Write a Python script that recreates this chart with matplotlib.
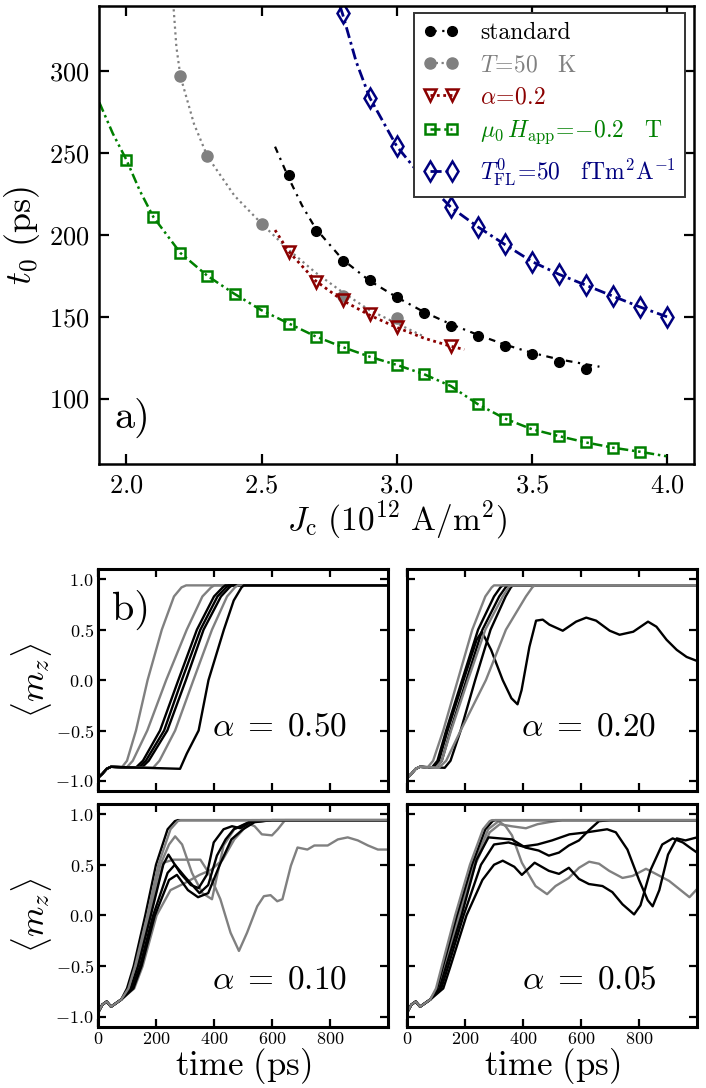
import numpy as np
import matplotlib
matplotlib.use("Agg")
import matplotlib.pyplot as plt
from matplotlib.lines import Line2D

plt.rcParams['font.family'] = ['cmr10', 'DejaVu Serif']
plt.rcParams['mathtext.fontset'] = 'cm'
plt.rcParams['axes.formatter.use_mathtext'] = True
plt.rcParams['axes.unicode_minus'] = True

# ---------------- panel a) data ----------------
jc_std = [2.6, 2.7, 2.8, 2.9, 3.0, 3.1, 3.2, 3.3, 3.4, 3.5, 3.6, 3.7]
t_std = [236.4, 202.2, 184.3, 172.3, 161.9, 152.2, 144.6, 138.1, 132.3, 127.2, 122.4, 118.0]
fit_std_x = [2.55, 2.6, 2.65, 2.7, 2.8, 2.9, 3.0, 3.1, 3.2, 3.3, 3.4, 3.5, 3.6, 3.7, 3.75]
fit_std_y = [254, 235, 218, 204, 185, 172, 162, 153, 145.5, 139, 133, 128, 124, 121, 119.5]

jc_T50 = [2.2, 2.3, 2.5, 2.8, 3.0]
t_T50 = [297, 248, 207, 163, 149]
fit_T50_x = [2.175, 2.185, 2.2, 2.25, 2.3, 2.4, 2.5, 2.6, 2.7, 2.8, 2.9, 3.0, 3.1]
fit_T50_y = [338, 315, 297, 268, 248, 224, 207, 191, 177, 165, 154, 146, 138]

jc_a02 = [2.6, 2.7, 2.8, 2.9, 3.0, 3.2]
t_a02 = [189.5, 171, 160, 151.6, 143.5, 132]
fit_a02_x = [2.55, 2.6, 2.7, 2.8, 2.9, 3.0, 3.1, 3.2, 3.25]
fit_a02_y = [203, 190, 172, 160, 151, 143.5, 137, 132, 130]

jc_H = [2.0, 2.1, 2.2, 2.3, 2.4, 2.5, 2.6, 2.7, 2.8, 2.9, 3.0, 3.1, 3.2, 3.3, 3.4, 3.5, 3.6, 3.7, 3.8, 3.9]
t_H = [246, 211, 188.7, 175, 163.7, 153.8, 145.6, 137.8, 131.5, 125.6, 120.6, 115, 107.7, 96.6, 87.8, 81.3, 77.1, 73.2, 70, 67.5]
fit_H_x = [1.9, 1.95, 2.0, 2.05, 2.1, 2.2, 2.3, 2.4, 2.5, 2.6, 2.7, 2.8, 2.9, 3.0, 3.1, 3.2, 3.3, 3.4, 3.5, 3.6, 3.7, 3.8, 3.9, 4.0]
fit_H_y = [281, 262, 246, 227, 211, 189, 175, 164, 154, 146, 138, 131.5, 125.6, 120.6, 115, 107.7, 96.6, 87.8, 81.3, 77.1, 73.2, 70, 67.5, 64.7]

jc_FL = [2.8, 2.9, 3.0, 3.1, 3.2, 3.3, 3.4, 3.5, 3.6, 3.7, 3.8, 3.9, 4.0]
t_FL = [336, 284, 254.3, 236, 217, 205, 194.2, 183.8, 176, 169.3, 162.6, 156, 150]
fit_FL_x = [2.79, 2.8, 2.85, 2.9, 3.0, 3.1, 3.2, 3.3, 3.4, 3.5, 3.6, 3.7, 3.8, 3.9, 4.0]
fit_FL_y = [340, 335, 306, 284, 254.3, 234, 217, 205, 194.2, 183.8, 176, 169.3, 162.6, 156, 150]

labels_a = ['standard', r'$T\!=\!50\quad\mathrm{K}$', r'$\alpha\!=\!0.2$',
            r'$\mu_0\,H_{\mathrm{app}}\!=\!{-}0.2\quad\mathrm{T}$',
            r'$T^{0}_{\mathrm{FL}}\!=\!50\quad\mathrm{fTm^2A^{-1}}$']

# ---------------- panel b) data ----------------
t0_a = [0, 15, 30, 45]
m0_a = [-0.97, -0.93, -0.88, -0.86]
t0_b = [0, 15, 30, 45, 60, 80]
m0_b = [-0.96, -0.88, -0.85, -0.90, -0.87, -0.83]
rise_m = [-0.87, -0.80, -0.5, 0.0, 0.5, 0.83, 0.92, 0.94, 0.94]

# alpha = 0.50
a50_g1_t = [81, 100, 131, 171, 220, 262, 288, 304, 1000]
a50_g2_t = [98, 120, 170, 235, 306, 360, 390, 401, 1000]
a50_b1_t = [130, 155, 214, 277, 341, 400, 430, 439, 1000]
a50_b2_t = [140, 165, 228, 289, 353, 412, 442, 451, 1000]
a50_b3_t = [150, 175, 239, 303, 364, 424, 453, 462, 1000]
a50_g3_t = [190, 212, 266, 329, 393, 445, 472, 482, 1000]
a50_b4_t = [283, 306, 347, 381, 434, 468, 495, 503, 1000]

# alpha = 0.20
a20_g1_t = [70, 90, 125, 175, 225, 270, 292, 300, 1000]
a20_b1_t = [85, 105, 135, 190, 245, 300, 322, 330, 1000]
a20_b3_t = [100, 120, 150, 205, 260, 318, 340, 348, 1000]
a20_g2_t = [100, 120, 152, 210, 270, 330, 350, 358, 1000]
a20_b4_t = [130, 150, 185, 235, 288, 340, 358, 365, 1000]
a20_g3_t = [110, 135, 185, 272, 341, 410, 432, 440, 1000]
a20_b2_t = [90, 110, 140, 195, 240, 258, 290, 330, 360, 381, 395, 422, 445, 468, 491, 537, 583, 618,
            652, 699, 733, 780, 831, 860, 895, 930, 964, 1000]
a20_b2_m = [-0.87, -0.80, -0.5, 0.0, 0.40, 0.48, 0.30, 0.0, -0.18, -0.24, -0.10, 0.33, 0.59, 0.60,
            0.55, 0.49, 0.58, 0.62, 0.59, 0.49, 0.45, 0.48, 0.58, 0.53, 0.40, 0.30, 0.23, 0.19]

# alpha = 0.10
a10_b1_t = [100, 123, 163, 200, 240, 265, 275, 1000]
a10_b1_m = [-0.72, -0.5, 0.0, 0.5, 0.85, 0.93, 0.94, 0.94]
a10_g1_t = [105, 128, 170, 208, 250, 275, 285, 1000]
a10_g1_m = [-0.72, -0.5, 0.0, 0.5, 0.85, 0.93, 0.94, 0.94]
a10_g2_t = [105, 130, 175, 215, 245, 266, 290, 324, 360, 393, 415, 433, 470, 515, 540, 565, 600, 620, 645, 1000]
a10_g2_m = [-0.72, -0.5, 0.0, 0.5, 0.70, 0.78, 0.70, 0.42, 0.22, 0.16, 0.45, 0.69, 0.85, 0.91, 0.88,
            0.80, 0.79, 0.85, 0.94, 0.94]
a10_g3_t = [110, 135, 180, 225, 260, 353, 382, 422, 457, 486, 514, 549, 572, 595, 618, 636, 665, 688,
            722, 746, 792, 827, 861, 896, 931, 965, 1000]
a10_g3_m = [-0.72, -0.5, 0.0, 0.52, 0.55, 0.55, 0.42, 0.16, -0.17, -0.35, -0.17, 0.09, 0.19, 0.20,
            0.14, 0.16, 0.49, 0.67, 0.65, 0.69, 0.69, 0.75, 0.77, 0.74, 0.69, 0.65, 0.65]
a10_g4_t = [125, 154, 202, 250, 300, 350, 390, 430, 470, 530, 1000]
a10_g4_m = [-0.72, -0.5, 0.0, 0.25, 0.32, 0.40, 0.45, 0.55, 0.75, 0.94, 0.94]
a10_b2_t = [112, 138, 182, 225, 243, 283, 320, 347, 375, 399, 433, 462, 491, 526, 600, 1000]
a10_b2_m = [-0.72, -0.5, 0.0, 0.5, 0.60, 0.42, 0.30, 0.27, 0.40, 0.72, 0.85, 0.88, 0.86, 0.92, 0.94, 0.94]
a10_b3_t = [118, 145, 190, 240, 265, 300, 350, 380, 410, 440, 468, 520, 560, 1000]
a10_b3_m = [-0.72, -0.5, 0.0, 0.42, 0.50, 0.38, 0.22, 0.30, 0.59, 0.75, 0.85, 0.92, 0.94, 0.94]
a10_b4_t = [122, 150, 196, 245, 272, 310, 345, 380, 420, 460, 500, 540, 600, 1000]
a10_b4_m = [-0.72, -0.5, 0.0, 0.35, 0.40, 0.25, 0.18, 0.22, 0.50, 0.75, 0.85, 0.92, 0.94, 0.94]

# alpha = 0.05
a05_g1_t = [100, 120, 166, 217, 262, 285, 293, 1000]
a05_g1_m = [-0.72, -0.5, 0.0, 0.5, 0.85, 0.93, 0.94, 0.94]
a05_b1_t = [104, 124, 172, 224, 270, 295, 304, 1000]
a05_b1_m = [-0.72, -0.5, 0.0, 0.5, 0.85, 0.93, 0.94, 0.94]
a05_g2_t = [108, 128, 178, 230, 280, 316, 340, 362, 396, 443, 483, 512, 558, 593, 628, 662, 697, 743,
            778, 824, 858, 904, 939, 974, 1000]
a05_g2_m = [-0.72, -0.5, 0.0, 0.5, 0.85, 0.93, 0.88, 0.79, 0.52, 0.29, 0.21, 0.29, 0.37, 0.47, 0.53,
            0.51, 0.44, 0.37, 0.39, 0.46, 0.41, 0.34, 0.26, 0.18, 0.26]
a05_g3_t = [110, 130, 182, 235, 285, 320, 360, 410, 450, 489, 535, 1000]
a05_g3_m = [-0.72, -0.5, 0.0, 0.5, 0.82, 0.90, 0.88, 0.86, 0.90, 0.92, 0.94, 0.94]
a05_ba_t = [112, 135, 188, 240, 281, 320, 362, 408, 454, 489, 524, 558, 593, 627, 662, 700, 1000]
a05_ba_m = [-0.72, -0.5, 0.0, 0.55, 0.77, 0.76, 0.75, 0.67, 0.64, 0.59, 0.62, 0.69, 0.74, 0.84, 0.93, 0.94, 0.94]
a05_bb_t = [118, 142, 195, 255, 300, 350, 400, 450, 500, 560, 620, 690, 720, 760, 800, 830, 847, 870,
            900, 930, 960, 1000]
a05_bb_m = [-0.72, -0.5, 0.0, 0.5, 0.70, 0.72, 0.68, 0.70, 0.74, 0.80, 0.82, 0.85, 0.82, 0.65, 0.35,
            0.15, 0.09, 0.25, 0.60, 0.76, 0.74, 0.77]
a05_bl_t = [125, 150, 205, 260, 300, 330, 370, 396, 440, 489, 524, 558, 593, 627, 674, 708, 743, 783,
            805, 840, 880, 916, 951, 980, 1000]
a05_bl_m = [-0.72, -0.5, 0.0, 0.35, 0.50, 0.54, 0.48, 0.40, 0.52, 0.44, 0.41, 0.47, 0.36, 0.31, 0.29,
            0.23, 0.11, 0.01, 0.10, 0.45, 0.70, 0.76, 0.72, 0.66, 0.62]

alpha_labels = [r'$\alpha\;=\;0.50$', r'$\alpha\;=\;0.20$', r'$\alpha\;=\;0.10$', r'$\alpha\;=\;0.05$']

GRAY = '#808080'
BLACK = 'k'

# ---------------- figure ----------------
fig = plt.figure(figsize=(7.06, 10.88), dpi=100)

ax = fig.add_axes([0.1407, 0.5735, 0.8424, 0.421])
for s in ax.spines.values():
    s.set_linewidth(1.8)
ax.tick_params(direction='in', top=True, right=True, length=7, width=1.6, labelsize=19, pad=7)

c_std, c_T, c_a, c_H, c_FL = 'k', GRAY, '#8b0000', '#008000', '#00007f'
ls_std = (0, (3, 2.5, 1, 2.5))
ls_T = (0, (1, 1.6))
ls_a = (0, (1, 1.3))
ls_H = (0, (4, 1.5, 1, 1.5, 1, 1.5))
ls_FL = (0, (4, 1.5, 1, 1.5))

ax.plot(fit_std_x, fit_std_y, color=c_std, ls=ls_std, lw=1.6)
ax.plot(fit_T50_x, fit_T50_y, color=c_T, ls=ls_T, lw=1.6)
ax.plot(fit_a02_x, fit_a02_y, color=c_a, ls=ls_a, lw=2.0)
ax.plot(fit_H_x, fit_H_y, color=c_H, ls=ls_H, lw=1.8)
ax.plot(fit_FL_x, fit_FL_y, color=c_FL, ls=ls_FL, lw=2.0)

ax.plot(jc_std, t_std, ls='none', marker='o', ms=7, color=c_std)
ax.plot(jc_T50, t_T50, ls='none', marker='o', ms=8, color=c_T)
ax.plot(jc_a02, t_a02, ls='none', marker='v', ms=8, mfc='none', mec=c_a, mew=1.8)
ax.plot(jc_H, t_H, ls='none', marker='s', ms=7, mfc='none', mec=c_H, mew=1.8)
ax.plot(jc_FL, t_FL, ls='none', marker='d', ms=10, mfc='none', mec=c_FL, mew=1.8)

ax.set_xlim(1.9, 4.1)
ax.set_ylim(60, 340)
ax.set_xticks([2.0, 2.5, 3.0, 3.5, 4.0])
ax.set_yticks([100, 150, 200, 250, 300])
ax.set_xlabel(r'$J_{\mathrm{c}}\ (10^{12}\ \mathrm{A/m^2})$', fontsize=24, labelpad=1)
ax.set_ylabel(r'$t_0\ \mathrm{(ps)}$', fontsize=26, labelpad=5)
ax.text(0.026, 0.10, 'a)', transform=ax.transAxes, fontsize=29, va='center', ha='left')

handles = [
    Line2D([], [], color=c_std, ls=ls_std, lw=1.6, marker='o', ms=7),
    Line2D([], [], color=c_T, ls=ls_T, lw=1.6, marker='o', ms=8),
    Line2D([], [], color=c_a, ls=ls_a, lw=2.0, marker='v', ms=8, mfc='none', mew=1.8),
    Line2D([], [], color=c_H, ls=ls_H, lw=1.8, marker='s', ms=7, mfc='none', mew=1.8),
    Line2D([], [], color=c_FL, ls=ls_FL, lw=2.0, marker='d', ms=10, mfc='none', mew=1.8),
]
leg = ax.legend(handles, labels_a, loc='upper right', bbox_to_anchor=(0.985, 0.985),
                borderaxespad=0, numpoints=2, fontsize=17, handlelength=1.5,
                handletextpad=0.9, labelspacing=0.42, borderpad=0.4,
                fancybox=False, framealpha=1, edgecolor='0.2')
leg.get_frame().set_linewidth(1.4)
for txt, col in zip(leg.get_texts(), [c_std, c_T, c_a, c_H, c_FL]):
    txt.set_color(col)

# ---------------- panels b) ----------------
pos = [[0.1388, 0.2730, 0.4108, 0.2038],
       [0.5765, 0.2730, 0.4108, 0.2038],
       [0.1388, 0.0561, 0.4108, 0.2050],
       [0.5765, 0.0561, 0.4108, 0.2050]]

curves = [
    [(t0_a + a50_g1_t, m0_a + rise_m, GRAY),
     (t0_a + a50_g2_t, m0_a + rise_m, GRAY),
     (t0_a + a50_b1_t, m0_a + rise_m, BLACK),
     (t0_a + a50_b2_t, m0_a + rise_m, BLACK),
     (t0_a + a50_b3_t, m0_a + rise_m, BLACK),
     (t0_a + a50_g3_t, m0_a + rise_m, GRAY),
     (t0_a + a50_b4_t, m0_a + [-0.88, -0.73, -0.5, 0.0, 0.5, 0.79, 0.92, 0.94, 0.94], BLACK)],
    [(t0_a + a20_b2_t, m0_a + a20_b2_m, BLACK),
     (t0_a + a20_b1_t, m0_a + rise_m, BLACK),
     (t0_a + a20_b3_t, m0_a + rise_m, BLACK),
     (t0_a + a20_b4_t, m0_a + rise_m, BLACK),
     (t0_a + a20_g1_t, m0_a + rise_m, GRAY),
     (t0_a + a20_g2_t, m0_a + rise_m, GRAY),
     (t0_a + a20_g3_t, m0_a + rise_m, GRAY)],
    [(t0_b + a10_g3_t, m0_b + a10_g3_m, GRAY),
     (t0_b + a10_g4_t, m0_b + a10_g4_m, GRAY),
     (t0_b + a10_g2_t, m0_b + a10_g2_m, GRAY),
     (t0_b + a10_b2_t, m0_b + a10_b2_m, BLACK),
     (t0_b + a10_b3_t, m0_b + a10_b3_m, BLACK),
     (t0_b + a10_b4_t, m0_b + a10_b4_m, BLACK),
     (t0_b + a10_b1_t, m0_b + a10_b1_m, BLACK),
     (t0_b + a10_g1_t, m0_b + a10_g1_m, GRAY)],
    [(t0_b + a05_g2_t, m0_b + a05_g2_m, GRAY),
     (t0_b + a05_g3_t, m0_b + a05_g3_m, GRAY),
     (t0_b + a05_ba_t, m0_b + a05_ba_m, BLACK),
     (t0_b + a05_bb_t, m0_b + a05_bb_m, BLACK),
     (t0_b + a05_bl_t, m0_b + a05_bl_m, BLACK),
     (t0_b + a05_b1_t, m0_b + a05_b1_m, BLACK),
     (t0_b + a05_g1_t, m0_b + a05_g1_m, GRAY)],
]
label_y = [0.29, 0.29, 0.21, 0.21]

for i in range(4):
    a = fig.add_axes(pos[i])
    for t, m, c in curves[i]:
        a.plot(t, m, color=c, lw=1.7)
    a.set_xlim(0, 1000)
    a.set_ylim(-1.1, 1.1)
    a.set_xticks([0, 200, 400, 600, 800])
    a.set_yticks([-1.0, -0.5, 0.0, 0.5, 1.0])
    for s in a.spines.values():
        s.set_linewidth(2.2)
    a.tick_params(direction='in', top=True, right=True, length=6, width=1.6,
                  labelsize=13, pad=3)
    if i % 2 == 1:
        a.tick_params(labelleft=False)
    else:
        a.set_ylabel(r'$\langle m_z\rangle$', fontsize=25, labelpad=1)
    if i < 2:
        a.tick_params(labelbottom=False)
    else:
        a.set_xlabel(r'$\mathrm{time\ (ps)}$', fontsize=25, labelpad=-1)
    a.text(0.86, label_y[i], alpha_labels[i], transform=a.transAxes, fontsize=24,
           ha='right', va='center')
    if i == 0:
        a.text(0.05, 0.815, 'b)', transform=a.transAxes, fontsize=29, ha='left', va='center')

fig.savefig('out.png', dpi=100)
